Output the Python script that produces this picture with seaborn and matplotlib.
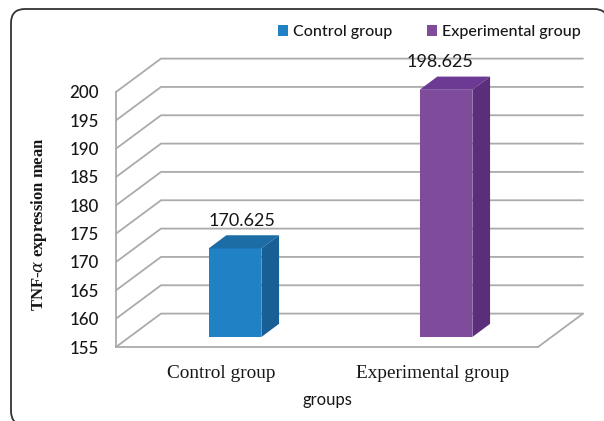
import matplotlib
matplotlib.use("Agg")
import matplotlib.pyplot as plt
import pandas as pd
import seaborn as sns
from matplotlib.patches import FancyBboxPatch, Polygon

categories = ["Control group", "Experimental group"]
means = [170.625, 198.625]
value_labels = ["170.625", "198.625"]
y_ticks = [155, 160, 165, 170, 175, 180, 185, 190, 195, 200]
front_colors = ["#2181C5", "#7F4C9C"]
top_colors = ["#1C6CA6", "#6C3A92"]
side_colors = ["#175F94", "#5B2E7C"]
label_nudge_px = [7, -6]

W, H = 604, 421
GRID = "#ABABAB"
INK = "#161616"
SANS = ["Lato", "DejaVu Sans"]
SERIF = ["Liberation Serif", "DejaVu Serif"]

sns.set_theme(style="white")
plt.rcParams["mathtext.fontset"] = "dejavuserif"

fig = plt.figure(figsize=(W / 100, H / 100), dpi=100, facecolor="white")


def rect(x0, y_bottom, width, height):
    """Axes rectangle from pixel measures, y counted from the top."""
    return [x0 / W, (H - y_bottom) / H, width / W, height / H]


# Rounded outer frame, running off the right and bottom edges
frame_ax = fig.add_axes([0, 0, 1, 1])
frame_ax.set_xlim(0, W)
frame_ax.set_ylim(H, 0)
frame_ax.axis("off")
frame_ax.add_patch(FancyBboxPatch((11, 9), 597, 416,
                                  boxstyle="round,pad=0,rounding_size=14",
                                  fc="white", ec="#333333", lw=1.3, clip_on=False))

# Front plane: value axis, category labels and the receding walls
ax = fig.add_axes(rect(116, 347, 422, 255))
ax.patch.set_alpha(0)
ax.set_xlim(-0.5, 1.5)
ax.set_ylim(155, 200)
x_depth = 45 / 422 * 2
y_depth = 33.4 / 255 * 45
x_left, x_right = -0.5, 1.5

for tick in y_ticks:
    ax.plot([x_left, x_left + x_depth, x_right + x_depth],
            [tick, tick + y_depth, tick + y_depth],
            color=GRID, lw=1.3, clip_on=False, solid_joinstyle="miter", zorder=1)
ax.plot([x_right, x_right + x_depth], [155, 155 + y_depth],
        color=GRID, lw=1.3, clip_on=False, zorder=1)

for name in ("top", "right"):
    ax.spines[name].set_visible(False)
for name in ("left", "bottom"):
    ax.spines[name].set_color(GRID)
    ax.spines[name].set_linewidth(1.3)

ax.set_xticks([0, 1], categories)
ax.set_yticks(y_ticks)
ax.tick_params(axis="y", length=1.8, width=1.1, color=GRID, pad=10.5, labelsize=12.2,
               labelcolor=INK)
ax.tick_params(axis="x", length=0, pad=13, labelsize=13.9, labelcolor=INK)
for lab in ax.get_yticklabels():
    lab.set_family(SANS)
    lab.set_fontweight("medium")
for lab in ax.get_xticklabels():
    lab.set_family(SERIF)

ax.set_ylabel("TNF-$\\alpha$ expression mean", family=SERIF, fontweight="bold",
              fontsize=12, color=INK, va="center")
ax.yaxis.set_label_coords((39 - 116) / 422, (347 - 224.5) / 255)
ax.set_xlabel("groups", family=SANS, fontsize=12, color=INK, va="center")
ax.xaxis.set_label_coords(0.5, -(400 - 347) / 255)

# Bars stand on a plane set back from the front of the floor
bar_ax = fig.add_axes(rect(129.5, 337, 422, 255))
bar_ax.patch.set_alpha(0)
data = pd.DataFrame({"group": categories, "mean": means})
sns.barplot(data=data, x="group", y="mean", hue="group", hue_order=categories,
            palette=front_colors, width=0.25, saturation=1, legend=True, ax=bar_ax,
            linewidth=0, zorder=3)
bar_ax.set_xlim(-0.5, 1.5)
bar_ax.set_ylim(155, 200)
bar_ax.set_xlabel("")
bar_ax.set_ylabel("")
bar_ax.set_xticks([])
bar_ax.set_yticks([])
for spine in bar_ax.spines.values():
    spine.set_visible(False)

bar_dx = 17.7 / 422 * 2
bar_dy = 13.2 / 255 * 45
bars = [b for b in bar_ax.patches if b.get_height() > 0]
bars.sort(key=lambda b: b.get_x())
for bar, top_c, side_c, text, nudge in zip(bars, top_colors, side_colors,
                                           value_labels, label_nudge_px):
    x0 = bar.get_x()
    x1 = x0 + bar.get_width()
    value = bar.get_height()
    bar_ax.add_patch(Polygon([(x0, value), (x1, value), (x1 + bar_dx, value + bar_dy),
                              (x0 + bar_dx, value + bar_dy)],
                             fc=top_c, ec="none", clip_on=False, zorder=3))
    bar_ax.add_patch(Polygon([(x1, 155), (x1 + bar_dx, 155 + bar_dy),
                              (x1 + bar_dx, value + bar_dy), (x1, value)],
                             fc=side_c, ec="none", clip_on=False, zorder=3))
    bar_ax.annotate(text, xy=((x0 + x1) / 2, value), xytext=(nudge * 0.72, 27.3 * 0.72),
                    textcoords="offset points", ha="center", va="center",
                    family=SANS, fontsize=13, color=INK, zorder=5,
                    annotation_clip=False)

sns.move_legend(bar_ax, "center left", bbox_to_anchor=((278 - 129.5) / 422, (337 - 32) / 255),
                ncol=2, frameon=False, title=None, handlelength=0.62, handleheight=0.62,
                handletextpad=0.3, columnspacing=2.2, borderaxespad=0, borderpad=0,
                prop={"family": SANS, "size": 11.5, "weight": "medium"})
for t in bar_ax.get_legend().get_texts():
    t.set_color(INK)

fig.savefig("out.png", dpi=100, facecolor="white")
